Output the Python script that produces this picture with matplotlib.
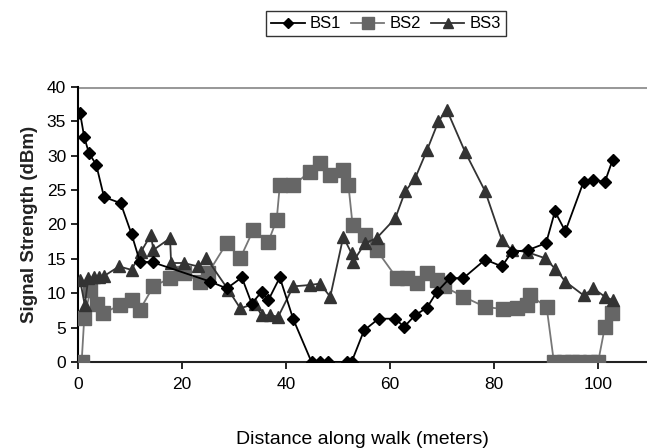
import matplotlib
matplotlib.use("Agg")
import matplotlib.pyplot as plt

plt.rcParams['font.family'] = ['Liberation Sans', 'DejaVu Sans']

# BS1 (diamonds)
bs1_x = [0.4, 1.2, 2.1, 3.5, 5.0, 8.2, 10.3, 11.9, 14.4, 25.4, 28.6, 31.5, 33.4,
         35.3, 36.6, 38.8, 41.4, 44.9, 46.5, 48.1, 51.7, 52.6, 55.0, 57.8, 61.0,
         62.7, 64.8, 67.1, 69.0, 71.5, 74.1, 78.3, 81.5, 83.4, 86.6, 90.0, 91.7,
         93.7, 97.2, 99.1, 101.3, 102.8]
bs1_y = [36.2, 32.7, 30.4, 28.7, 24.0, 23.1, 18.6, 14.6, 14.5, 11.7, 10.7, 12.3, 8.5,
         10.2, 9.0, 12.3, 6.2, 0, 0, 0, 0, 0, 4.6, 6.3, 6.3,
         5.1, 6.8, 7.9, 10.2, 12.2, 12.2, 14.9, 13.9, 16.0, 16.3, 17.3, 21.9,
         19.0, 26.2, 26.5, 26.2, 29.4]

# BS2 (squares)
bs2_x = [0.7, 1.2, 2.4, 3.7, 4.9, 8.1, 10.3, 11.9, 14.5, 17.7, 20.3, 23.5, 25.0,
         28.6, 31.2, 33.7, 36.6, 38.2, 38.8, 41.4, 44.6, 46.5, 48.5, 51.0, 52.0,
         52.8, 55.2, 57.4, 61.3, 63.2, 65.1, 67.1, 69.0, 70.3, 74.1, 78.3, 81.8,
         84.4, 86.3, 86.9, 90.1, 91.5, 93.5, 95.0, 96.3, 98.5, 100.0, 101.3, 102.6]
bs2_y = [0, 6.4, 10.5, 8.5, 7.1, 8.3, 9.0, 7.6, 11.0, 12.2, 12.9, 11.7, 12.9,
         17.3, 15.1, 19.2, 17.5, 20.7, 25.7, 25.7, 27.7, 28.9, 27.2, 27.9, 25.7,
         19.9, 18.5, 16.3, 12.2, 12.2, 11.5, 12.9, 11.9, 11.0, 9.5, 8.0, 7.7,
         7.8, 8.3, 9.7, 8.0, 0, 0, 0, 0, 0, 0, 5.1, 7.1]

# BS3 (triangles)
bs3_x = [0.4, 1.3, 2.0, 3.0, 4.0, 5.0, 7.9, 10.3, 12.1, 14.0, 14.5, 17.7, 17.9,
         20.3, 23.1, 24.7, 28.9, 31.2, 34.0, 35.3, 36.9, 38.5, 41.4, 44.6, 46.5,
         48.5, 51.0, 52.6, 52.9, 55.2, 57.4, 61.0, 62.9, 64.8, 67.1, 69.3, 70.9,
         74.4, 78.3, 81.5, 83.4, 86.3, 89.8, 91.7, 93.7, 97.2, 99.1, 101.3, 102.8]
bs3_y = [11.9, 8.3, 12.2, 12.3, 12.3, 12.5, 13.9, 13.4, 16.0, 18.5, 16.3, 18.0, 14.4,
         14.4, 13.9, 15.1, 10.5, 7.8, 8.5, 6.8, 6.8, 6.6, 11.0, 11.2, 11.4,
         9.5, 18.2, 15.8, 14.6, 17.3, 18.0, 20.9, 24.8, 26.7, 30.8, 35.0, 36.7,
         30.6, 24.8, 17.7, 16.3, 16.0, 15.1, 13.6, 11.7, 9.7, 10.7, 9.5, 9.0]

x_ticks = [0, 20, 40, 60, 80, 100]
y_ticks = [0, 5, 10, 15, 20, 25, 30, 35, 40]

fig = plt.figure(figsize=(6.47, 4.48), dpi=100)
ax = fig.add_axes([78 / 647, 86 / 448, 569 / 647, 275 / 448])

ax.axhline(40, color='#999999', lw=2.2, zorder=1)

l1, = ax.plot(bs1_x, bs1_y, '-', color='black', lw=1.3, marker='D',
              markersize=6.5, markerfacecolor='black', markeredgecolor='black', zorder=4)
l2, = ax.plot(bs2_x, bs2_y, '-', color='#777777', lw=1.3, marker='s',
              markersize=10.5, markerfacecolor='#666666', markeredgecolor='#666666', zorder=3)
l3, = ax.plot(bs3_x, bs3_y, '-', color='#333333', lw=1.3, marker='^',
              markersize=8.5, markerfacecolor='#333333', markeredgecolor='#333333', zorder=3)

ax.set_xlim(0, 109.4)
ax.set_ylim(0, 40)
ax.set_xticks(x_ticks)
ax.set_yticks(y_ticks)
ax.tick_params(axis='both', direction='out', length=5, width=1.2, labelsize=12.5)
ax.tick_params(axis='x', pad=6)

for side in ['top', 'right']:
    ax.spines[side].set_visible(False)
ax.spines['left'].set_linewidth(1.5)
ax.spines['bottom'].set_linewidth(1.5)
ax.spines['bottom'].set_color('#222222')

ax.set_ylabel('Signal Strength (dBm)', fontsize=13.5, fontweight='bold',
              color='#222222', labelpad=6)
ax.set_xlabel('Distance along walk (meters)', fontsize=14, labelpad=28)

fig.legend([l1, l2, l3], ['BS1', 'BS2', 'BS3'], loc='center', ncol=3,
           bbox_to_anchor=(386 / 647, 1 - 24 / 448), frameon=True, fancybox=False,
           edgecolor='black', fontsize=12, handlelength=2.0, handletextpad=0.3,
           columnspacing=0.6, borderpad=0.3, markerscale=0.8)

fig.savefig('out.png', dpi=100)
